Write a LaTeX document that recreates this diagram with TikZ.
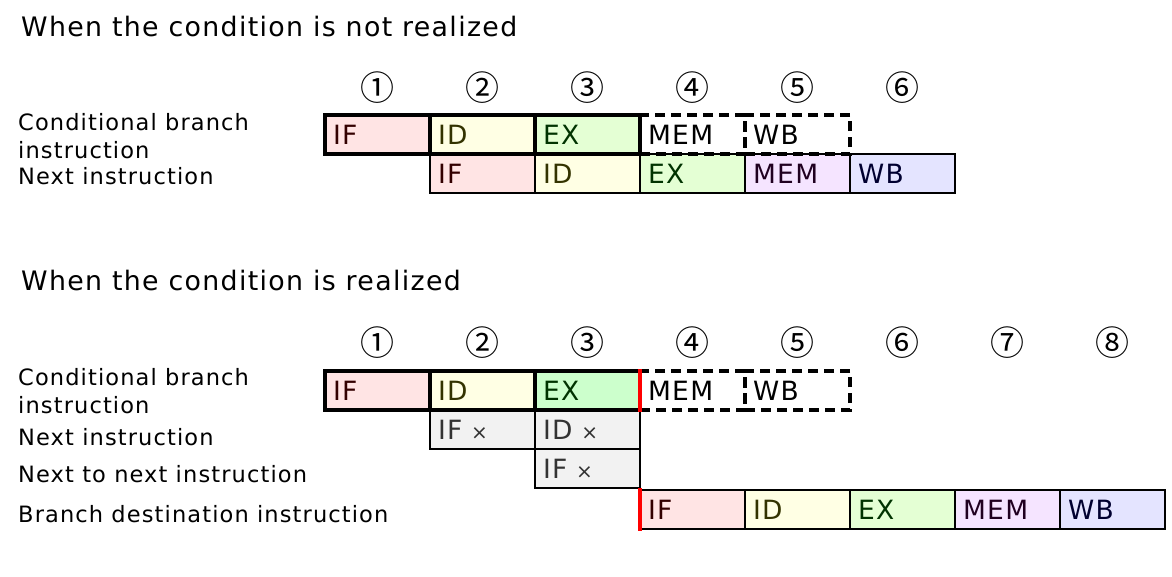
\documentclass[tikz,border=0pt]{standalone}
\usepackage{fontspec}
\setmainfont{DejaVu Sans}[LetterSpace=5]
\newfontfamily\circfont{Noto Sans CJK JP}
\usetikzlibrary{positioning}

\definecolor{ifbg}{HTML}{FFE4E4}
\definecolor{idbg}{HTML}{FFFFE4}
\definecolor{exbg}{HTML}{E4FFD4}
\definecolor{exhot}{HTML}{CCFFCC}
\definecolor{membg}{HTML}{F5E4FF}
\definecolor{wbbg}{HTML}{E4E4FF}
\definecolor{flushbg}{HTML}{F2F2F2}
\definecolor{iftx}{HTML}{330000}
\definecolor{idtx}{HTML}{333300}
\definecolor{extx}{HTML}{003300}
\definecolor{memtx}{HTML}{200020}
\definecolor{wbtx}{HTML}{000030}
\definecolor{flushtx}{HTML}{333333}

\newcommand\xmark{{\fontsize{20}{20}\selectfont ×}}

\tikzset{
  head/.style={anchor=base west, inner sep=0pt, font=\fontsize{26.8}{30}\selectfont},
  lbl/.style={anchor=base west, inner sep=0pt, align=left, font=\fontsize{22.5}{28}\selectfont},
  num/.style={inner sep=0pt, font=\circfont\fontsize{34}{34}\selectfont},
  cell/.style={draw, line width=1.6pt, outer sep=0pt, anchor=north west,
    minimum width=105pt, minimum height=39pt, inner xsep=8pt, inner ysep=0pt,
    text width=89pt, align=left, text height=19.5pt, text depth=0pt,
    font=\fontsize{26.5}{30}\selectfont},
  cond/.style={cell, line width=4pt},
  skipped/.style={cell, line width=4pt, dash pattern=on 10pt off 6pt},
  flushed/.style={cell, fill=flushbg, text=flushtx},
  cut/.style={red, line width=4pt}
}

\begin{document}
\begin{tikzpicture}[x=1pt,y=-1pt]
\useasboundingbox (0,0) rectangle (1172,576);

% condition not realized
\node[head] (head1) at (21,36) {When the condition is not realized};
\node[num] (na1) at (377,88) {①};
\node[num] (na2) at (482,88) {②};
\node[num] (na3) at (587,88) {③};
\node[num] (na4) at (692,88) {④};
\node[num] (na5) at (797,88) {⑤};
\node[num] (na6) at (902,88) {⑥};
\node[lbl] (la1) at (18,158) {Conditional branch\\instruction};
\node[lbl] (la2) at (18,184) {Next instruction};

\node[cell, fill=ifbg, text=iftx] (a21) at (430,154) {IF};
\node[cell, fill=idbg, text=idtx, right=0pt of a21] (a22) {ID};
\node[cell, fill=exbg, text=extx, right=0pt of a22] (a23) {EX};
\node[cell, fill=membg, text=memtx, right=0pt of a23] (a24) {MEM};
\node[cell, fill=wbbg, text=wbtx, right=0pt of a24] (a25) {WB};

\node[cond, fill=ifbg, text=iftx] (a11) at (325,115) {IF};
\node[cond, fill=idbg, text=idtx, right=0pt of a11] (a12) {ID};
\node[cond, fill=exbg, text=extx, right=0pt of a12] (a13) {EX};
\node[skipped, right=0pt of a13] (a14) {MEM};
\node[skipped, right=0pt of a14] (a15) {WB};

% condition realized
\node[head] (head2) at (21,290) {When the condition is realized};
\node[num] (nb1) at (377,343) {①};
\node[num] (nb2) at (482,343) {②};
\node[num] (nb3) at (587,343) {③};
\node[num] (nb4) at (692,343) {④};
\node[num] (nb5) at (797,343) {⑤};
\node[num] (nb6) at (902,343) {⑥};
\node[num] (nb7) at (1007,343) {⑦};
\node[num] (nb8) at (1112,343) {⑧};
\node[lbl] (lb1) at (18,413) {Conditional branch\\instruction};
\node[lbl] (lb2) at (18,445) {Next instruction};
\node[lbl] (lb3) at (18,482) {Next to next instruction};
\node[lbl] (lb4) at (18,522) {Branch destination instruction};

\node[flushed] (b21) at (430,410) {IF \xmark};
\node[flushed, right=0pt of b21] (b22) {ID \xmark};
\node[flushed, below=0pt of b22] (b31) {IF \xmark};

\node[cell, fill=ifbg, text=iftx] (b41) at (640,490) {IF};
\node[cell, fill=idbg, text=idtx, right=0pt of b41] (b42) {ID};
\node[cell, fill=exbg, text=extx, right=0pt of b42] (b43) {EX};
\node[cell, fill=membg, text=memtx, right=0pt of b43] (b44) {MEM};
\node[cell, fill=wbbg, text=wbtx, right=0pt of b44] (b45) {WB};

\node[cond, fill=ifbg, text=iftx] (b11) at (325,371) {IF};
\node[cond, fill=idbg, text=idtx, right=0pt of b11] (b12) {ID};
\node[cond, fill=exhot, text=extx, right=0pt of b12] (b13) {EX};
\node[skipped, right=0pt of b13] (b14) {MEM};
\node[skipped, right=0pt of b14] (b15) {WB};

\draw[cut] ([yshift=2pt]b13.north east) -- ([yshift=-2pt]b13.south east);
\draw[cut] ([yshift=2pt]b41.north west) -- ([yshift=-2pt]b41.south west);
\end{tikzpicture}
\end{document}
